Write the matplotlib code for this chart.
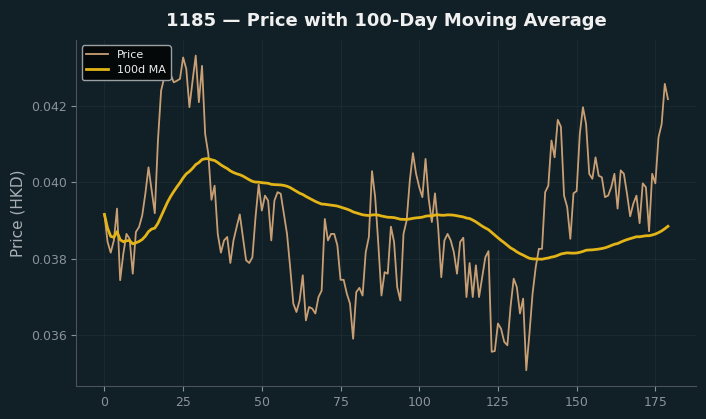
import matplotlib
matplotlib.use("Agg")
import matplotlib.pyplot as plt
import numpy as np
import pandas as pd

# daily closing price (HKD)
price = [
    0.03916, 0.03844, 0.03816, 0.03848, 0.03931, 0.03744, 0.03813, 0.03865, 0.03852, 0.03761,
    0.03870, 0.03883, 0.03913, 0.03970, 0.04039, 0.03978, 0.03919, 0.04109, 0.04239, 0.04274,
    0.04307, 0.04283, 0.04261, 0.04265, 0.04270, 0.04326, 0.04296, 0.04196, 0.04265, 0.04331,
    0.04209, 0.04304, 0.04126, 0.04074, 0.03954, 0.03991, 0.03865, 0.03816, 0.03848, 0.03857,
    0.03789, 0.03848, 0.03883, 0.03916, 0.03857, 0.03796, 0.03789, 0.03804, 0.03909, 0.03994,
    0.03926, 0.03965, 0.03952, 0.03848, 0.03952, 0.03974, 0.03970, 0.03917, 0.03865, 0.03778,
    0.03683, 0.03661, 0.03691, 0.03757, 0.03639, 0.03674, 0.03670, 0.03657, 0.03700, 0.03717,
    0.03904, 0.03848, 0.03865, 0.03865, 0.03835, 0.03745, 0.03745, 0.03709, 0.03683, 0.03591,
    0.03713, 0.03724, 0.03704, 0.03817, 0.03857, 0.04029, 0.03961, 0.03839, 0.03704, 0.03765,
    0.03761, 0.03884, 0.03844, 0.03726, 0.03691, 0.03865, 0.03900, 0.04004, 0.04076, 0.04022,
    0.03987, 0.03961, 0.04061, 0.03957, 0.03896, 0.03971, 0.03883, 0.03752, 0.03848, 0.03865,
    0.03848, 0.03817, 0.03761, 0.03844, 0.03855, 0.03700, 0.03789, 0.03700, 0.03783, 0.03700,
    0.03752, 0.03804, 0.03820, 0.03557, 0.03559, 0.03631, 0.03617, 0.03583, 0.03574, 0.03674,
    0.03748, 0.03726, 0.03657, 0.03696, 0.03509, 0.03604, 0.03709, 0.03778, 0.03826, 0.03826,
    0.03974, 0.03991, 0.04109, 0.04065, 0.04163, 0.04145, 0.03965, 0.03935, 0.03852, 0.03971,
    0.03977, 0.04126, 0.04196, 0.04152, 0.04022, 0.04009, 0.04065, 0.04017, 0.04013, 0.03961,
    0.03965, 0.03987, 0.04022, 0.03931, 0.04031, 0.04022, 0.03970, 0.03911, 0.03944, 0.03965,
    0.03893, 0.03997, 0.03987, 0.03872, 0.04022, 0.03997, 0.04117, 0.04152, 0.04257, 0.04217,
]
day = np.arange(len(price))
ma100 = pd.Series(price).rolling(100, min_periods=1).mean()

bg = "#111f26"
fig, ax = plt.subplots(figsize=(7.06, 4.19), dpi=100)
fig.patch.set_facecolor(bg)
ax.set_facecolor(bg)
fig.subplots_adjust(left=0.108, right=0.986, top=0.905, bottom=0.079)

ax.plot(day, price, color="#c89f74", lw=1.3, label="Price")
ax.plot(day, ma100, color="#e2b417", lw=2.0, label="100d MA")

ax.set_title("1185 \u2014 Price with 100-Day Moving Average", color="#f0f0f0",
             fontsize=13, fontweight="bold", pad=10)
ax.set_ylabel("Price (HKD)", color="#a8b0b4", fontsize=11)
ax.set_xticks([0, 25, 50, 75, 100, 125, 150, 175])
ax.tick_params(colors="#8a9399", labelsize=9)
ax.grid(True, color="#24343b", lw=0.6, alpha=0.6)
for s in ["top", "right"]:
    ax.spines[s].set_visible(False)
for s in ["left", "bottom"]:
    ax.spines[s].set_color("#4a5459")

leg = ax.legend(loc="upper left", fontsize=8, facecolor="#050808",
                edgecolor="#9aa0a4", labelcolor="#eeeeee", framealpha=1.0)

fig.savefig("out.png", dpi=100, facecolor=bg)
